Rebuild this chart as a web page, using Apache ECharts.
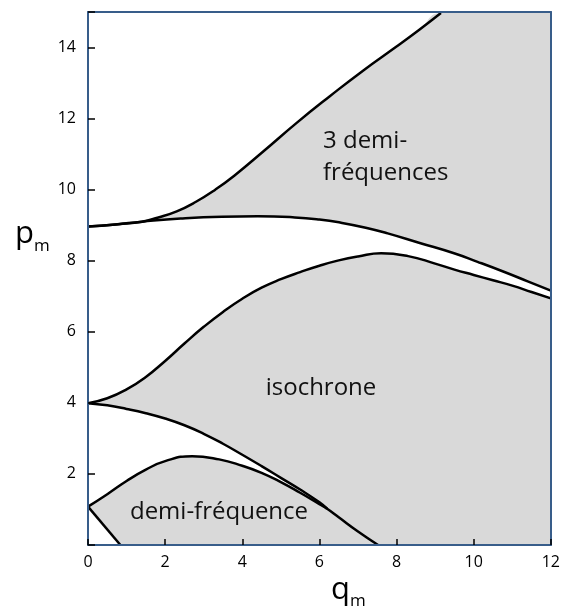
<!DOCTYPE html>
<html>
<head>
<meta charset="utf-8">
<script src="https://cdn.jsdelivr.net/npm/echarts@6/dist/echarts.min.js"></script>
<style>
  html, body { margin: 0; padding: 0; background: #fff; }
  #chart { width: 563px; height: 611px; }
</style>
</head>
<body>
<div id="chart"></div>
<script>
// ---- Data (q, p) ----
// Upper boundary of the "3 demi-fréquences" region
const curve1Q = [0, 0.8, 1.4, 1.8, 2.3, 2.8, 3.3, 3.8, 4.55, 5.41, 6.27, 7.13, 7.99, 8.59, 9.15];
const curve1P = [8.96, 9.03, 9.10, 9.21, 9.39, 9.66, 10.00, 10.40, 11.08, 11.88, 12.63, 13.35, 14.02, 14.50, 14.97];
// Lower boundary of the "3 demi-fréquences" region
const curve2Q = [0, 0.7, 1.4, 2.4, 3.47, 4.4, 5.36, 6.0, 6.56, 7.2, 7.77, 8.6, 9.49, 10.1, 10.78, 11.4, 12];
const curve2P = [8.96, 9.02, 9.10, 9.19, 9.24, 9.25, 9.22, 9.16, 9.07, 8.93, 8.77, 8.50, 8.21, 7.97, 7.69, 7.42, 7.16];
// Upper boundary of the "isochrone" region
const curve3Q = [0, 0.5, 1.0, 1.5, 2.0, 2.5, 3.0, 3.5, 4.0, 4.5, 5.0, 5.5, 6.0, 6.5, 7.0, 7.6, 8.3, 9.0, 9.5, 10, 10.5, 11, 11.5, 12];
const curve3P = [3.99, 4.13, 4.38, 4.73, 5.18, 5.67, 6.14, 6.56, 6.93, 7.24, 7.48, 7.68, 7.86, 8.01, 8.12, 8.21, 8.13, 7.92, 7.75, 7.60, 7.45, 7.30, 7.12, 6.94];
// Lower boundary of the "isochrone" region
const curve4Q = [0, 0.5, 1.0, 1.5, 2.0, 2.5, 3.0, 3.5, 4.0, 4.5, 5.0, 5.5, 6.0, 6.2];
const curve4P = [3.99, 3.93, 3.83, 3.71, 3.56, 3.37, 3.13, 2.85, 2.54, 2.22, 1.89, 1.56, 1.20, 1.02];
// Upper boundary of the "demi-fréquence" region
const curve5Q = [0, 0.5, 1.0, 1.5, 2.0, 2.7, 3.4, 4.0, 4.5, 5.0, 5.5, 6.0, 6.2, 6.5, 7.0, 7.52];
const curve5P = [1.08, 1.43, 1.80, 2.12, 2.36, 2.50, 2.41, 2.23, 2.03, 1.77, 1.47, 1.15, 1.02, 0.78, 0.38, 0];
// Lower boundary of the "demi-fréquence" region
const curve6Q = [0, 0.84];
const curve6P = [1.08, 0];

const qTicks = [0, 2, 4, 6, 8, 10, 12];
const pTicks = [2, 4, 6, 8, 10, 12, 14];
const regionLabels = ['3 demi-\nfréquences', 'isochrone', 'demi-fréquence'];

// ---- Build ----
const pairs = (qs, ps) => qs.map((q, i) => [q, ps[i]]);
const c1 = pairs(curve1Q, curve1P);
const c2 = pairs(curve2Q, curve2P);
const c3 = pairs(curve3Q, curve3P);
const c4 = pairs(curve4Q, curve4P);
const c5 = pairs(curve5Q, curve5P);
const c6 = pairs(curve6Q, curve6P);
const Q_MAX = qTicks[qTicks.length - 1];
const P_MAX = 15;
const topFill = c1.concat([[Q_MAX, P_MAX]]);

const GREY = '#D9D9D9';
const FRAME = '#385D8A';
const FONT = 'Open Sans';
const SMOOTH = 0.5;

function fill(data, color, z, smooth) {
  return {
    type: 'line', data, smooth: smooth === undefined ? SMOOTH : smooth, showSymbol: false, silent: true,
    lineStyle: { width: 0, opacity: 0 },
    areaStyle: { color, opacity: 1, origin: 'start' },
    z
  };
}
function curve(data, smooth) {
  return {
    type: 'line', data, smooth: smooth, showSymbol: false, silent: true,
    lineStyle: { color: '#000', width: 2.5 },
    z: 10
  };
}

const chart = echarts.init(document.getElementById('chart'), null, { renderer: 'canvas' });
chart.setOption({
  animation: false,
  backgroundColor: '#fff',
  grid: { left: 88, right: 11, top: 12, bottom: 66, containLabel: false },
  xAxis: [{
    type: 'value', min: 0, max: Q_MAX, interval: 2, z: 20,
    axisLine: { show: true, lineStyle: { color: FRAME, width: 2 } },
    axisTick: { show: true, inside: true, length: 6, lineStyle: { color: '#000', width: 1.5 } },
    axisLabel: { color: '#000', fontSize: 16, fontFamily: FONT, margin: 9,
      formatter: v => qTicks.includes(v) ? String(v) : '' },
    splitLine: { show: false }
  }, {
    type: 'value', position: 'top', min: 0, max: Q_MAX, z: 20,
    axisLine: { show: true, onZero: false, lineStyle: { color: FRAME, width: 2 } },
    axisTick: { show: false }, axisLabel: { show: false }, splitLine: { show: false }
  }],
  yAxis: [{
    type: 'value', min: 0, max: P_MAX, interval: 2, z: 20,
    axisLine: { show: true, lineStyle: { color: FRAME, width: 2 } },
    axisTick: { show: true, inside: true, length: 7, lineStyle: { color: '#000', width: 1.5 } },
    axisLabel: { color: '#000', fontSize: 16, fontFamily: FONT, margin: 12,
      formatter: v => pTicks.includes(v) ? String(v) : '' },
    splitLine: { show: false }
  }, {
    type: 'value', position: 'right', min: 0, max: P_MAX, z: 20,
    axisLine: { show: true, onZero: false, lineStyle: { color: FRAME, width: 2 } },
    axisTick: { show: false }, axisLabel: { show: false }, splitLine: { show: false }
  }],
  series: [
    fill(topFill, GREY, 1),
    fill(c2, '#fff', 2),
    fill(c3, GREY, 3),
    fill(c4, '#fff', 4),
    fill(c5, GREY, 5),
    fill(c6, '#fff', 6, false),
    curve(c1, SMOOTH),
    curve(c2, SMOOTH),
    curve(c3, SMOOTH),
    curve(c4, SMOOTH),
    curve(c5, SMOOTH),
    curve(c6, false)
  ],
  graphic: [
    { type: 'text', z: 100, left: 323, top: 125,
      style: { text: regionLabels[0], font: '24px "Open Sans"', fill: '#111', lineHeight: 32 } },
    { type: 'text', z: 100, x: 321, y: 388,
      style: { text: regionLabels[1], font: '24px "Open Sans"', fill: '#111', align: 'center', verticalAlign: 'middle' } },
    { type: 'text', z: 100, x: 219, y: 512,
      style: { text: regionLabels[2], font: '24px "Open Sans"', fill: '#111', align: 'center', verticalAlign: 'middle' } },
    { type: 'text', z: 100, x: 15, y: 234,
      style: { text: 'p', font: '31px "Open Sans"', fill: '#000', align: 'left', verticalAlign: 'middle' } },
    { type: 'text', z: 100, x: 34, y: 246,
      style: { text: 'm', font: '17px "Open Sans"', fill: '#000', align: 'left', verticalAlign: 'middle' } },
    { type: 'text', z: 100, x: 331, y: 590,
      style: { text: 'q', font: '31px "Open Sans"', fill: '#000', align: 'left', verticalAlign: 'middle' } },
    { type: 'text', z: 100, x: 350, y: 601,
      style: { text: 'm', font: '17px "Open Sans"', fill: '#000', align: 'left', verticalAlign: 'middle' } }
  ]
});
</script>
</body>
</html>
